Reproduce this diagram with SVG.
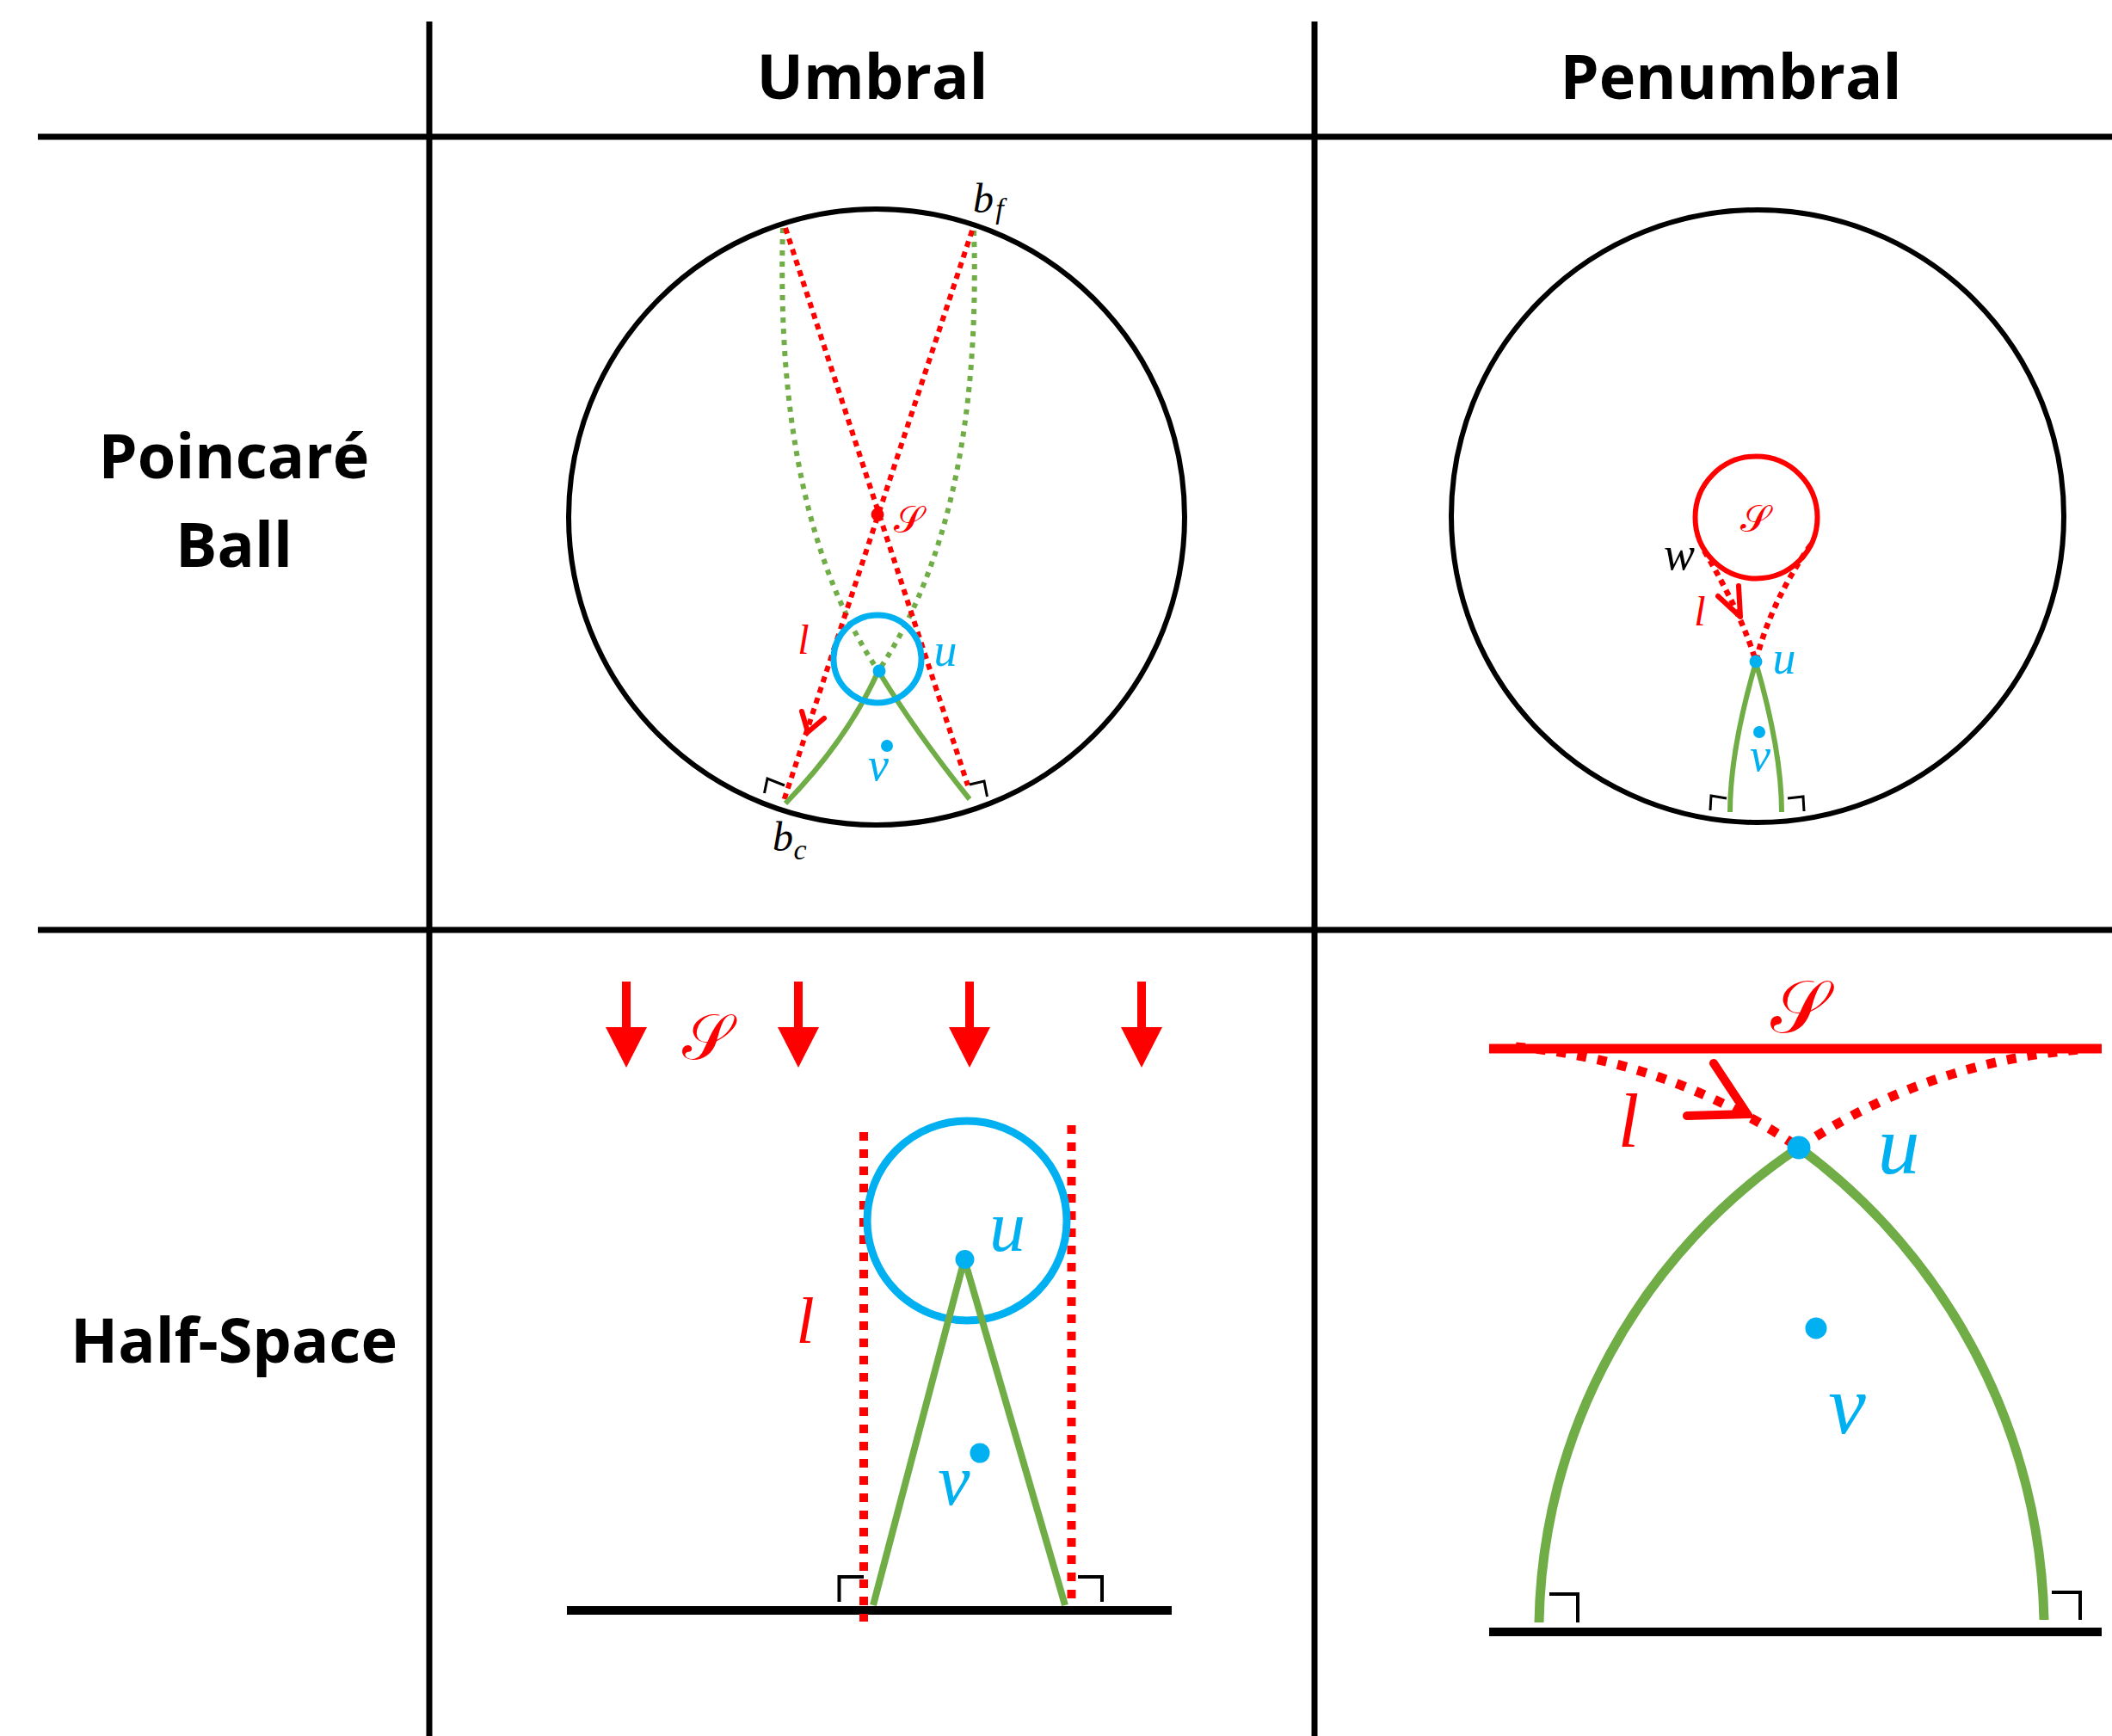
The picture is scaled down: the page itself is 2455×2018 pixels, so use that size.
<svg xmlns="http://www.w3.org/2000/svg" width="2455" height="2018" viewBox="0 0 2455 2018">
<style>
.hdr{font-family:"Open Sans","Liberation Sans",sans-serif;font-weight:bold;fill:#000;text-anchor:middle}
.m{font-family:"Liberation Serif","DejaVu Serif",serif;font-style:italic;text-anchor:middle}
.scr{font-family:"DejaVu Serif","DejaVu Sans","Noto Sans",serif;text-anchor:middle;fill:#FF0000}
.red{fill:#FF0000}.blue{fill:#00B0F0}.blk{fill:#000}
.grid{stroke:#000;stroke-width:7;fill:none}
.bnd{stroke:#000;stroke-width:6;fill:none}
.ra{stroke:#000;stroke-width:3;fill:none}
.ra2{stroke:#000;stroke-width:4;fill:none}
.rdot{stroke:#FF0000;fill:none;stroke-dasharray:7 6}
.gdot{stroke:#70AD47;fill:none;stroke-dasharray:6 7}
.gs{stroke:#70AD47;fill:none}
</style>
<rect width="2455" height="2018" fill="#fff"/>
<g id="grid">
<line class="grid" x1="499" y1="25" x2="499" y2="2018"/>
<line class="grid" x1="1528" y1="25" x2="1528" y2="2018"/>
<line class="grid" x1="44" y1="159" x2="2455" y2="159"/>
<line class="grid" x1="44" y1="1081" x2="2455" y2="1081"/>
</g>
<g id="headers">
<text class="hdr" x="1014" y="115" font-size="72">Umbral</text>
<text class="hdr" x="2012" y="115" font-size="72">Penumbral</text>
<text class="hdr" x="272" y="556" font-size="72">Poincaré</text>
<text class="hdr" x="272" y="659" font-size="72">Ball</text>
<text class="hdr" x="272" y="1584" font-size="72">Half-Space</text>
</g>
<g id="umbral-ball">
<circle class="bnd" cx="1019" cy="601" r="358"/>
<path class="gdot" stroke-width="6" d="M910,265 Q900,600 1021,780"/>
<path class="gdot" stroke-width="6" d="M1132,268 Q1142,600 1021,780"/>
<path class="rdot" stroke-width="6" d="M913,265 L1125,913"/>
<path class="rdot" stroke-width="6" d="M1130,268 L910,934"/>
<path class="gs" stroke-width="6" d="M1021,780 Q1065,852 1127,929"/>
<path class="gs" stroke-width="6" d="M1021,780 Q985,860 913,934"/>
<path d="M932,827 L939,851 L958,835" stroke="#FF0000" stroke-width="6" fill="none" stroke-linecap="round"/>
<circle cx="1020" cy="766" r="51" fill="none" stroke="#00B0F0" stroke-width="7"/>
<circle cx="1020" cy="598" r="7.5" class="red"/>
<circle cx="1022" cy="780" r="7.5" class="blue"/>
<circle cx="1031" cy="867" r="7" class="blue"/>
<path class="ra" d="M888.5,922 L892,905 L912,913"/>
<path class="ra" d="M1127,912 L1144,908 L1147.5,926"/>
<text class="scr" x="1056" y="619" font-size="44">𝒮</text>
<text class="m red" x="934" y="760" font-size="48">l</text>
<text class="m blue" x="1099" y="774" font-size="54">u</text>
<text class="m blue" x="1021" y="907" font-size="54">v</text>
<text class="m blk" x="1143" y="247" font-size="48">b</text>
<text class="m blk" x="1162" y="254" font-size="34">f</text>
<text class="m blk" x="910" y="989" font-size="48">b</text>
<text class="m blk" x="930" y="999" font-size="34">c</text>
</g>
<g id="penumbral-ball">
<circle class="bnd" cx="2043" cy="600" r="356"/>
<circle cx="2041.5" cy="601.5" r="71" fill="none" stroke="#FF0000" stroke-width="6"/>
<path class="rdot" stroke-width="6.5" d="M1981,640 Q2025,715 2041,769"/>
<path class="rdot" stroke-width="6.5" d="M2105,633 Q2058,700 2041,769"/>
<path d="M2021,681 L2023,717 L1997,693" stroke="#FF0000" stroke-width="6" fill="none" stroke-linecap="round" stroke-linejoin="round"/>
<path class="gs" stroke-width="6" d="M2041,770 Q2011,873 2011,944"/>
<path class="gs" stroke-width="6" d="M2041,770 Q2071,873 2071,944"/>
<circle cx="2041" cy="769" r="7.5" class="blue"/>
<circle cx="2045" cy="851" r="7" class="blue"/>
<path class="ra" d="M1988,942 L1989,925 L2007,928"/>
<path class="ra" d="M2078,928 L2096,926 L2097,943"/>
<text class="scr" x="2040" y="618" font-size="44">𝒮</text>
<text class="m blk" x="1952" y="662" font-size="54">w</text>
<text class="m red" x="1976" y="727" font-size="48">l</text>
<text class="m blue" x="2074" y="783" font-size="54">u</text>
<text class="m blue" x="2046" y="896" font-size="54">v</text>
</g>
<g id="umbral-halfspace">
<g class="red">
<rect x="723" y="1141" width="10" height="55"/><polygon points="704,1194 752,1194 728,1241"/>
<rect x="923" y="1141" width="10" height="55"/><polygon points="904,1194 952,1194 928,1241"/>
<rect x="1122" y="1141" width="10" height="55"/><polygon points="1103,1194 1151,1194 1127,1241"/>
<rect x="1322" y="1141" width="10" height="55"/><polygon points="1303,1194 1351,1194 1327,1241"/>
</g>
<line x1="659" y1="1872" x2="1362" y2="1872" stroke="#000" stroke-width="10"/>
<line class="rdot" stroke-width="10" style="stroke-dasharray:10 10" x1="1004" y1="1316" x2="1004" y2="1885"/>
<line class="rdot" stroke-width="10" style="stroke-dasharray:10 10" x1="1245.5" y1="1308" x2="1245.5" y2="1862"/>
<circle cx="1124" cy="1419" r="116" fill="none" stroke="#00B0F0" stroke-width="9"/>
<line class="gs" stroke-width="8" x1="1121" y1="1464" x2="1015" y2="1866"/>
<line class="gs" stroke-width="8" x1="1121" y1="1464" x2="1238" y2="1866"/>
<circle cx="1121.5" cy="1464" r="11" class="blue"/>
<circle cx="1139" cy="1689" r="11.5" class="blue"/>
<path class="ra2" d="M975.5,1862 L975.5,1833 L1004,1833"/>
<path class="ra2" d="M1253,1833 L1281,1833 L1281,1862"/>
<text class="scr" x="821" y="1231" font-size="74">𝒮</text>
<text class="m red" x="936" y="1561" font-size="76">l</text>
<text class="m blue" x="1171" y="1454" font-size="84">u</text>
<text class="m blue" x="1109" y="1749" font-size="84">v</text>
</g>
<g id="penumbral-halfspace">
<line x1="1731" y1="1219" x2="2443" y2="1219" stroke="#FF0000" stroke-width="11"/>
<path class="rdot" stroke-width="11" style="stroke-dasharray:11 13" d="M1762,1217 A682,682 0 0 1 2091,1334"/>
<path class="rdot" stroke-width="11" style="stroke-dasharray:11 13" d="M2091,1334 A679,679 0 0 1 2419,1220"/>
<path d="M1992,1236 L2031,1295 L1961,1297" stroke="#FF0000" stroke-width="10" fill="none" stroke-linecap="round" stroke-linejoin="miter"/>
<line x1="1731" y1="1897" x2="2443" y2="1897" stroke="#000" stroke-width="10"/>
<path class="gs" stroke-width="11" d="M1789,1886 A677,677 0 0 1 2091,1334"/>
<path class="gs" stroke-width="11" d="M2091,1334 A699,699 0 0 1 2376,1883"/>
<circle cx="2091" cy="1334" r="13.5" class="blue"/>
<circle cx="2111" cy="1544" r="12.5" class="blue"/>
<path class="ra2" d="M1801,1853 L1834,1853 L1834,1886"/>
<path class="ra2" d="M2385,1851 L2418,1851 L2418,1883"/>
<text class="scr" x="2091" y="1200" font-size="86">𝒮</text>
<text class="m red" x="1893" y="1333" font-size="88">l</text>
<text class="m blue" x="2207" y="1364" font-size="98">u</text>
<text class="m blue" x="2147" y="1666" font-size="98">v</text>
</g>
</svg>
